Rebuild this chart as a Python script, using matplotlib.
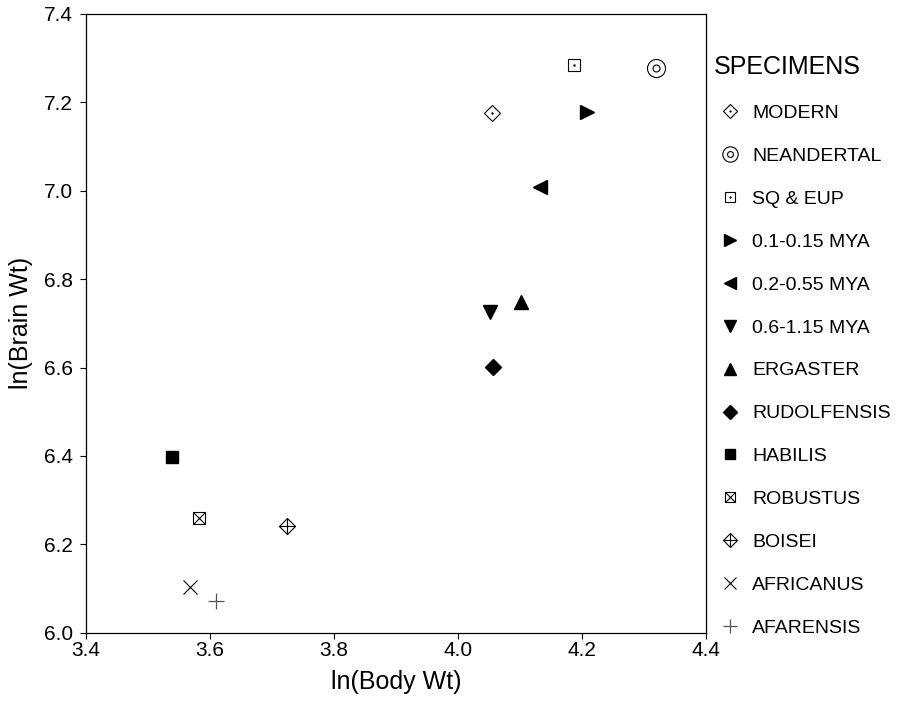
import matplotlib
matplotlib.use('Agg')
import matplotlib.pyplot as plt
from matplotlib.lines import Line2D

plt.rcParams['font.family'] = ['Liberation Sans', 'DejaVu Sans']

# ln(body wt), ln(brain wt)
names = ['MODERN', 'NEANDERTAL', 'SQ & EUP', '0.1-0.15 MYA', '0.2-0.55 MYA',
         '0.6-1.15 MYA', 'ERGASTER', 'RUDOLFENSIS', 'HABILIS', 'ROBUSTUS',
         'BOISEI', 'AFRICANUS', 'AFARENSIS']
body = [4.055, 4.319, 4.188, 4.208, 4.132, 4.052, 4.102, 4.056, 3.539, 3.582, 3.724, 3.568, 3.610]
brain = [7.176, 7.277, 7.285, 7.178, 7.008, 6.726, 6.748, 6.601, 6.398, 6.259, 6.241, 6.104, 6.073]

# each specimen drawn as one or more overlaid marker layers
styles = [
    [dict(marker='D', ms=8, mfc='white', mec='black', mew=0.8),
     dict(marker='.', ms=1.5, mfc='black', mec='black')],
    [dict(marker='o', ms=13, mfc='white', mec='black', mew=0.8),
     dict(marker='o', ms=5, mfc='white', mec='black', mew=0.8)],
    [dict(marker='s', ms=8.5, mfc='white', mec='black', mew=0.8),
     dict(marker='.', ms=1.5, mfc='black', mec='black')],
    [dict(marker='>', ms=10, mfc='black', mec='black')],
    [dict(marker='<', ms=10, mfc='black', mec='black')],
    [dict(marker='v', ms=10, mfc='black', mec='black')],
    [dict(marker='^', ms=10, mfc='black', mec='black')],
    [dict(marker='D', ms=8, mfc='black', mec='black')],
    [dict(marker='s', ms=8.5, mfc='black', mec='black')],
    [dict(marker='s', ms=8.5, mfc='white', mec='black', mew=0.8),
     dict(marker='x', ms=8.5, mec='black', mew=0.8)],
    [dict(marker='D', ms=8, mfc='white', mec='black', mew=0.8),
     dict(marker='+', ms=11.3, mec='black', mew=0.8)],
    [dict(marker='x', ms=9.5, mec='black', mew=0.8)],
    [dict(marker='+', ms=12, mec='#555555', mew=0.9)],
]

fig = plt.figure(figsize=(8.97, 7.2), dpi=100)
ax = fig.add_axes([0.0955, 0.121, 0.6915, 0.86])

handles = []
for name, x, y, layers in zip(names, body, brain, styles):
    hs = []
    for st in layers:
        ax.plot([x], [y], linestyle='none', **st)
        hs.append(Line2D([], [], linestyle='none', **st))
    handles.append(tuple(hs))

ax.set_xlim(3.4, 4.4)
ax.set_ylim(6.0, 7.4)
ax.set_xticks([3.4, 3.6, 3.8, 4.0, 4.2, 4.4])
ax.set_yticks([6.0, 6.2, 6.4, 6.6, 6.8, 7.0, 7.2, 7.4])
ax.xaxis.set_major_formatter(matplotlib.ticker.FormatStrFormatter('%.1f'))
ax.yaxis.set_major_formatter(matplotlib.ticker.FormatStrFormatter('%.1f'))
ax.tick_params(axis='both', direction='out', length=4, width=0.8, labelsize=15)
ax.tick_params(axis='x', pad=2)
ax.tick_params(axis='y', pad=5)
for s in ax.spines.values():
    s.set_linewidth(0.9)

ax.set_xlabel('ln(Body Wt)', fontsize=18, labelpad=7)
ax.set_ylabel('ln(Brain Wt)', fontsize=18, labelpad=8)

leg = ax.legend(handles, names, loc='upper left', bbox_to_anchor=(0.987, 0.958),
                frameon=False, fontsize=14, title='SPECIMENS',
                title_fontsize=18, labelspacing=1.30, handlelength=1.7,
                handletextpad=0.3, borderaxespad=0.4, alignment='left',
                markerscale=0.85)

fig.savefig('out.png', dpi=100)
